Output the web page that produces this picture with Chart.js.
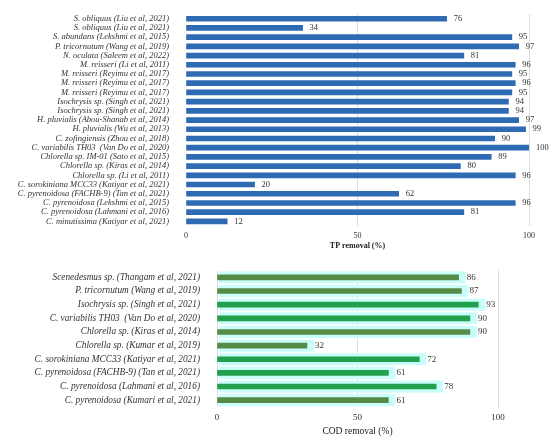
<!DOCTYPE html>
<html>
<head>
<meta charset="utf-8">
<script src="https://cdn.jsdelivr.net/npm/chart.js@4/dist/chart.umd.min.js"></script>
<style>
  html, body { margin: 0; padding: 0; background: #fff; }
  #tpWrap { position: absolute; left: 0; top: 0; width: 550px; height: 251px; }
  #codWrap { position: absolute; left: 0; top: 256px; width: 550px; height: 181px; }
</style>
</head>
<body>
<div id="tpWrap"><canvas id="tpChart"></canvas></div>
<div id="codWrap"><canvas id="codChart"></canvas></div>
<script>
// TP removal (top chart)
const tpLabels = [
  'S. obliquus (Liu et al, 2021)',
  'S. obliquus (Liu et al, 2021)',
  'S. abundans (Lekshmi et al, 2015)',
  'P. tricornutum (Wang et al, 2019)',
  'N. oculata (Saleem et al, 2022)',
  'M. reisseri (Li et al, 2011)',
  'M. reisseri (Reyimu et al, 2017)',
  'M. reisseri (Reyimu et al, 2017)',
  'M. reisseri (Reyimu et al, 2017)',
  'Isochrysis sp. (Singh et al, 2021)',
  'Isochrysis sp. (Singh et al, 2021)',
  'H. pluvialis (Abou-Shanab et al, 2014)',
  'H. pluvialis (Wu et al, 2013)',
  'C. zofingiensis (Zhou et al, 2018)',
  'C. variabilis TH03  (Van Do et al, 2020)',
  'Chlorella sp. IM-01 (Sato et al, 2015)',
  'Chlorella sp. (Kiras et al, 2014)',
  'Chlorella sp. (Li et al, 2011)',
  'C. sorokiniana MCC33 (Katiyar et al, 2021)',
  'C. pyrenoidosa (FACHB-9) (Tan et al, 2021)',
  'C. pyrenoidosa (Lekshmi et al, 2015)',
  'C. pyrenoidosa (Lahmani et al, 2016)',
  'C. minutissima (Katiyar et al, 2021)'
];
const tpValues = [76, 34, 95, 97, 81, 96, 95, 96, 95, 94, 94, 97, 99, 90, 100, 89, 80, 96, 20, 62, 96, 81, 12];

// COD removal (bottom chart)
const codLabels = [
  'Scenedesmus sp. (Thangam et al, 2021)',
  'P. tricornutum (Wang et al, 2019)',
  'Isochrysis sp. (Singh et al, 2021)',
  'C. variabilis TH03  (Van Do et al, 2020)',
  'Chlorella sp. (Kiras et al, 2014)',
  'Chlorella sp. (Kumar et al, 2019)',
  'C. sorokiniana MCC33 (Katiyar et al, 2021)',
  'C. pyrenoidosa (FACHB-9) (Tan et al, 2021)',
  'C. pyrenoidosa (Lahmani et al, 2016)',
  'C. pyrenoidosa (Kumari et al, 2021)'
];
const codValues = [86, 87, 93, 90, 90, 32, 72, 61, 78, 61];

const xTicks = [0, 50, 100];

const OLIVE = '#558b47';
const BRIGHT = '#23a04e';
const codColors = [OLIVE, OLIVE, BRIGHT, BRIGHT, OLIVE, OLIVE, BRIGHT, BRIGHT, BRIGHT, OLIVE];

const serif = '"Liberation Serif", "DejaVu Serif", serif';

// writes the value just past the end of each bar
const valueLabels = {
  id: 'valueLabels',
  afterDatasetsDraw(chart, args, opts) {
    const ctx = chart.ctx;
    const meta = chart.getDatasetMeta(0);
    const data = chart.data.datasets[0].data;
    ctx.save();
    ctx.font = opts.size + 'px ' + serif;
    ctx.fillStyle = '#333';
    ctx.textAlign = 'left';
    ctx.textBaseline = 'middle';
    meta.data.forEach((bar, i) => {
      ctx.fillText(String(data[i]), bar.x + opts.gap, bar.y);
    });
    ctx.restore();
  }
};

// light cyan band behind each COD bar
const glow = {
  id: 'glow',
  beforeDatasetsDraw(chart, args, opts) {
    if (!opts.enabled) return;
    const ctx = chart.ctx;
    const meta = chart.getDatasetMeta(0);
    const left = chart.scales.x.getPixelForValue(0);
    ctx.save();
    ctx.fillStyle = '#c9fdf9';
    meta.data.forEach(bar => {
      ctx.fillRect(left + 2, bar.y - 6, bar.x - left + 5, 12);
    });
    ctx.restore();
  }
};

function makeChart(id, labels, values, colors, cfg) {
  return new Chart(document.getElementById(id).getContext('2d'), {
    type: 'bar',
    data: {
      labels: labels,
      datasets: [{
        data: values,
        backgroundColor: colors,
        borderWidth: 0,
        barThickness: cfg.barThickness
      }]
    },
    plugins: [glow, valueLabels],
    options: {
      indexAxis: 'y',
      responsive: true,
      maintainAspectRatio: false,
      animation: false,
      layout: { padding: { top: cfg.top, right: cfg.right, left: 0, bottom: 0 } },
      plugins: {
        legend: { display: false },
        tooltip: { enabled: false },
        valueLabels: { size: cfg.valueSize, gap: cfg.gap },
        glow: { enabled: cfg.glow }
      },
      scales: {
        x: {
          min: 0,
          max: 100,
          afterBuildTicks: scale => { scale.ticks = xTicks.map(v => ({ value: v })); },
          afterFit: scale => { scale.height = cfg.xHeight; },
          border: { display: false },
          grid: {
            color: c => (c.tick && c.tick.value === 0 && !cfg.zeroLine) ? 'rgba(0,0,0,0)' : '#dcdcdc',
            drawTicks: false
          },
          ticks: {
            padding: 5,
            color: '#333',
            font: { family: serif, size: cfg.tickSize }
          },
          title: {
            display: true,
            text: cfg.title,
            color: '#222',
            padding: { top: 2, bottom: 0 },
            font: { family: serif, size: cfg.titleSize, weight: cfg.titleWeight }
          }
        },
        y: {
          afterFit: scale => { scale.width = cfg.yWidth; },
          border: { display: false },
          grid: { display: false },
          ticks: {
            padding: 9,
            color: '#333',
            autoSkip: false,
            font: { family: serif, size: cfg.labelSize, style: 'italic' }
          }
        }
      }
    }
  });
}

makeChart('tpChart', tpLabels, tpValues, '#2f6bb3', {
  barThickness: 5, top: 12, right: 21, xHeight: 25, yWidth: 186,
  valueSize: 8.5, gap: 7, tickSize: 8, labelSize: 8.5, title: 'TP removal (%)',
  titleSize: 8, titleWeight: 'bold', glow: false, zeroLine: false
});

makeChart('codChart', codLabels, codValues, codColors, {
  barThickness: 5, top: 10, right: 52, xHeight: 30, yWidth: 217,
  valueSize: 9, gap: 8, tickSize: 9, labelSize: 9.3, title: 'COD removal (%)',
  titleSize: 9.5, titleWeight: 'normal', glow: true, zeroLine: true
});
</script>
</body>
</html>
